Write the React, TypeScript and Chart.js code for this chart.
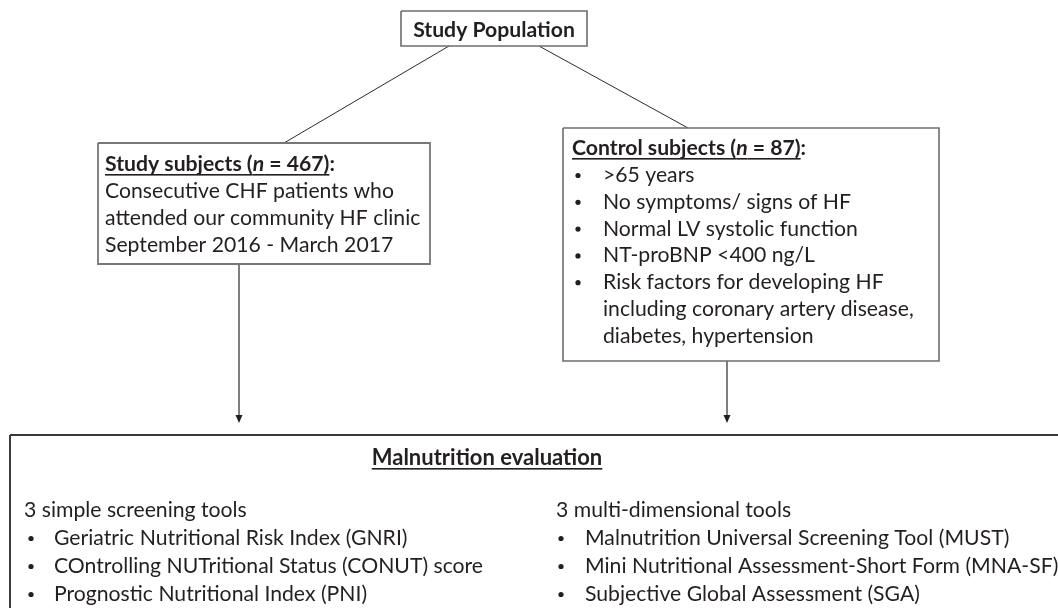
import React, { useEffect, useRef } from "react";
import { Chart, registerables } from "chart.js";

Chart.register(...registerables);

const W = 1058;
const H = 608;

// ---------- Flowchart data ----------
// Boxes (chart units): population, study subjects, control subjects, malnutrition evaluation
const boxLeft = [401, 98, 563, 10];
const boxTop = [11, 143, 128, 435];
const boxRight = [587, 430, 939, 1075];
const boxBottom = [46, 264, 361, 650];

// Connectors: plain diagonal lines from population box to the two group boxes
const lineFromX = [449, 539];
const lineFromY = [46, 46];
const lineToX = [284, 688];
const lineToY = [143, 128];

// Arrows: from group boxes down to evaluation box
const arrowX = [239, 727];
const arrowFromY = [264, 361];
const arrowToY = [423, 423];

// Texts
const populationTitle = "Study Population";
const studyHeading = [
  { t: "Study subjects (", b: true, u: true },
  { t: "n", b: true, i: true, u: true },
  { t: " = 467)", b: true, u: true },
  { t: ":", b: true },
];
const studyLines = [
  "Consecutive CHF patients who",
  "attended our community HF clinic",
  "September 2016 - March 2017",
];
const controlHeading = [
  { t: "Control subjects (", b: true, u: true },
  { t: "n", b: true, i: true, u: true },
  { t: " = 87)", b: true, u: true },
  { t: ":", b: true },
];
const controlBullets = [
  [">65 years"],
  ["No symptoms/ signs of HF"],
  ["Normal LV systolic function"],
  ["NT-proBNP <400 ng/L"],
  ["Risk factors for developing HF", "including coronary artery disease,", "diabetes, hypertension"],
];
const evaluationTitle = "Malnutrition evaluation";
const simpleHeading = "3 simple screening tools";
const simpleTools = [
  "Geriatric Nutritional Risk Index (GNRI)",
  "COntrolling NUTritional Status (CONUT) score",
  "Prognostic Nutritional Index (PNI)",
];
const multiHeading = "3 multi-dimensional tools";
const multiTools = [
  "Malnutrition Universal Screening Tool (MUST)",
  "Mini Nutritional Assessment-Short Form (MNA-SF)",
  "Subjective Global Assessment (SGA)",
];

// ---------- Styles / layout ----------
const FAMILY = "Lato, 'Open Sans', sans-serif";
const FONT_SIZE = 21.2;
const TITLE_SIZE = 22;
const TEXT_COLOR = "#231f20";

type Run = { t: string; b?: boolean; i?: boolean; u?: boolean; s?: number };

function fontFor(r: Run) {
  return `${r.i ? "italic " : ""}${r.b ? "bold " : ""}${r.s || FONT_SIZE}px ${FAMILY}`;
}

function drawRuns(ctx: CanvasRenderingContext2D, runs: Run[], x: number, y: number, align: "left" | "center") {
  let total = 0;
  for (const r of runs) {
    ctx.font = fontFor(r);
    total += ctx.measureText(r.t).width;
  }
  let cx = align === "center" ? x - total / 2 : x;
  ctx.textAlign = "left";
  ctx.textBaseline = "alphabetic";
  ctx.fillStyle = TEXT_COLOR;
  for (const r of runs) {
    ctx.font = fontFor(r);
    const w = ctx.measureText(r.t).width;
    ctx.fillText(r.t, cx, y);
    if (r.u) ctx.fillRect(cx, y + 3, w, 1.6);
    cx += w;
  }
}

function drawBullet(ctx: CanvasRenderingContext2D, x: number, y: number) {
  ctx.beginPath();
  ctx.fillStyle = TEXT_COLOR;
  ctx.arc(x, y - 6.5, 2.6, 0, Math.PI * 2);
  ctx.fill();
}

const textPlugin = {
  id: "flowText",
  afterDatasetsDraw(chart: any) {
    const ctx: CanvasRenderingContext2D = chart.ctx;
    const xs = chart.scales.x;
    const ys = chart.scales.y;
    const px = (v: number) => xs.getPixelForValue(v);
    const py = (v: number) => ys.getPixelForValue(v);
    ctx.save();

    // Population box title
    drawRuns(ctx, [{ t: populationTitle, b: true }], px((boxLeft[0] + boxRight[0]) / 2), py(37), "center");

    // Study subjects box
    const sx = boxLeft[1] + 7;
    drawRuns(ctx, studyHeading, px(sx), py(171), "left");
    studyLines.forEach((s, k) => drawRuns(ctx, [{ t: s }], px(sx), py(198 + k * 27), "left"));

    // Control subjects box
    const cx = boxLeft[2] + 9;
    drawRuns(ctx, controlHeading, px(cx), py(155), "left");
    let row = 0;
    controlBullets.forEach((item) => {
      item.forEach((s, k) => {
        const yy = py(182 + row * 26.8);
        if (k === 0) drawBullet(ctx, px(578), yy);
        drawRuns(ctx, [{ t: s }], px(603), yy, "left");
        row++;
      });
    });

    // Evaluation box
    drawRuns(ctx, [{ t: evaluationTitle, b: true, u: true, s: TITLE_SIZE }], px(487), py(465), "center");
    drawRuns(ctx, [{ t: simpleHeading }], px(24), py(517), "left");
    simpleTools.forEach((s, k) => {
      const yy = py(545 + k * 28);
      drawBullet(ctx, px(31), yy);
      drawRuns(ctx, [{ t: s }], px(54), yy, "left");
    });
    drawRuns(ctx, [{ t: multiHeading }], px(556), py(517), "left");
    multiTools.forEach((s, k) => {
      const yy = py(545 + k * 28);
      drawBullet(ctx, px(561), yy);
      drawRuns(ctx, [{ t: s }], px(585), yy, "left");
    });
    ctx.restore();
  },
};

const arrowPlugin = {
  id: "flowArrows",
  afterDatasetsDraw(chart: any) {
    const ctx: CanvasRenderingContext2D = chart.ctx;
    chart.data.datasets.forEach((ds: any, i: number) => {
      if (!ds.arrowHead) return;
      const pts = chart.getDatasetMeta(i).data;
      const tip = pts[pts.length - 1];
      ctx.save();
      ctx.fillStyle = "#231f20";
      ctx.beginPath();
      ctx.moveTo(tip.x, tip.y + 4);
      ctx.lineTo(tip.x - 3.5, tip.y - 4);
      ctx.lineTo(tip.x + 3.5, tip.y - 4);
      ctx.closePath();
      ctx.fill();
      ctx.restore();
    });
  },
};

function buildDatasets() {
  const ds: any[] = [];
  const boxColors = ["#6d6d6d", "#777777", "#6d6d6d", "#3a3a3a"];
  const boxWidths = [1.6, 1.8, 1.6, 2];
  boxLeft.forEach((l, k) => {
    const t = boxTop[k], r = boxRight[k], b = boxBottom[k];
    ds.push({
      data: [
        { x: l, y: t },
        { x: r, y: t },
        { x: r, y: b },
        { x: l, y: b },
        { x: l, y: t },
      ],
      showLine: true,
      borderColor: boxColors[k],
      borderWidth: boxWidths[k],
      borderJoinStyle: "miter",
      pointRadius: 0,
      fill: false,
      tension: 0,
      clip: false,
    });
  });
  lineFromX.forEach((x0, k) => {
    ds.push({
      data: [
        { x: x0, y: lineFromY[k] },
        { x: lineToX[k], y: lineToY[k] },
      ],
      showLine: true,
      borderColor: "#2b2b2b",
      borderWidth: 1,
      pointRadius: 0,
      fill: false,
      tension: 0,
    });
  });
  arrowX.forEach((x0, k) => {
    ds.push({
      data: [
        { x: x0, y: arrowFromY[k] },
        { x: x0, y: arrowToY[k] - 4 },
      ],
      showLine: true,
      borderColor: "#2b2b2b",
      borderWidth: 1.2,
      pointRadius: 0,
      fill: false,
      tension: 0,
      arrowHead: true,
    });
  });
  return ds;
}

export default function App() {
  const ref = useRef<HTMLCanvasElement>(null);
  useEffect(() => {
    const canvas = ref.current;
    if (!canvas) return;
    const chart = new Chart(canvas, {
      type: "scatter",
      data: { datasets: buildDatasets() },
      options: {
        responsive: false,
        animation: false,
        devicePixelRatio: 1,
        events: [],
        layout: { padding: 0 },
        plugins: { legend: { display: false }, tooltip: { enabled: false }, title: { display: false } },
        scales: {
          x: { type: "linear", min: 0, max: W, display: false },
          y: { type: "linear", min: 0, max: H, reverse: true, display: false },
        },
      } as any,
      plugins: [arrowPlugin, textPlugin],
    });
    return () => chart.destroy();
  }, []);
  return (
    <div style={{ position: "fixed", left: 0, top: 0, width: W, height: H, background: "#ffffff" }}>
      <canvas ref={ref} width={W} height={H} style={{ display: "block", width: W, height: H }} />
    </div>
  );
}
